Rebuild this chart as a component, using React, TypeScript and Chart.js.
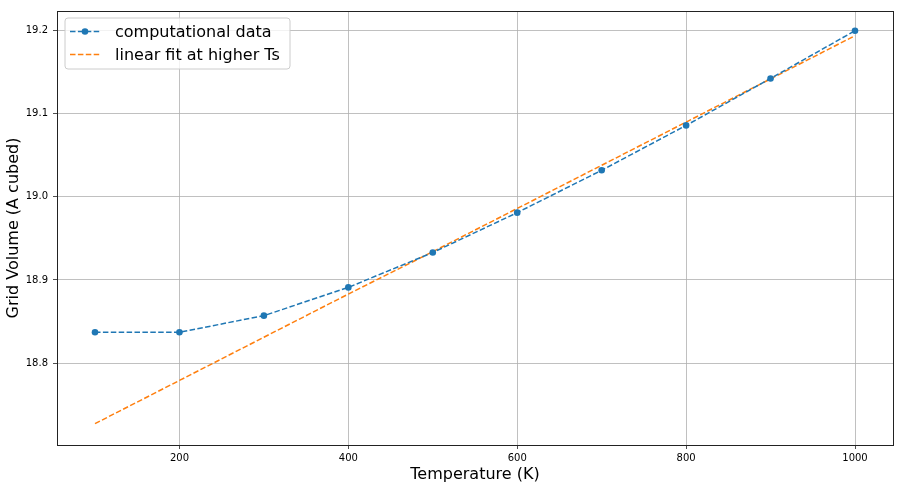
import { useEffect, useRef } from "react";
import { Chart, registerables } from "chart.js";

Chart.register(...registerables);

const temperatures = [100, 200, 300, 400, 500, 600, 700, 800, 900, 1000];
const gridVolume = [18.837, 18.837, 18.857, 18.891, 18.933, 18.981, 19.032, 19.086, 19.1425, 19.2];
const linearFit = [18.727, 18.779, 18.831, 18.883, 18.934, 18.986, 19.038, 19.09, 19.142, 19.194];
const xTicks = [200, 400, 600, 800, 1000];
const yTicks = [18.8, 18.9, 19.0, 19.1, 19.2];

const FONT = "'DejaVu Sans', sans-serif";
const BLUE = "#1f77b4";
const ORANGE = "#ff7f0e";

// box around the axes and a matplotlib-like legend inside the plot
const framePlugin = {
  id: "frame",
  afterDraw(chart: any) {
    const { ctx, chartArea: a } = chart;
    ctx.save();
    ctx.strokeStyle = "#222";
    ctx.lineWidth = 1;
    ctx.strokeRect(a.left + 0.5, a.top + 0.5, a.right - a.left, a.bottom - a.top);

    const x0 = 65, y0 = 18, w = 225, h = 51;
    ctx.beginPath();
    ctx.roundRect(x0, y0, w, h, 3);
    ctx.fillStyle = "rgba(255,255,255,0.8)";
    ctx.fill();
    ctx.strokeStyle = "#cccccc";
    ctx.stroke();

    const rows = [
      { label: "computational data", color: BLUE, y: 31.5, marker: true },
      { label: "linear fit at higher Ts", color: ORANGE, y: 54.5, marker: false },
    ];
    ctx.font = `16px ${FONT}`;
    ctx.textBaseline = "middle";
    for (const r of rows) {
      ctx.strokeStyle = r.color;
      ctx.lineWidth = 1.5;
      ctx.setLineDash([5.5, 2.4]);
      ctx.beginPath();
      ctx.moveTo(70, r.y);
      ctx.lineTo(100, r.y);
      ctx.stroke();
      ctx.setLineDash([]);
      if (r.marker) {
        ctx.fillStyle = r.color;
        ctx.beginPath();
        ctx.arc(85, r.y, 3.3, 0, Math.PI * 2);
        ctx.fill();
      }
      ctx.fillStyle = "#000";
      ctx.fillText(r.label, 115, r.y + 1);
    }
    ctx.restore();
  },
};

export default function App() {
  const canvasRef = useRef<HTMLCanvasElement>(null);

  useEffect(() => {
    document.body.style.margin = "0";
    const chart = new Chart(canvasRef.current!, {
      type: "line",
      data: {
        datasets: [
          {
            label: "computational data",
            data: temperatures.map((t, i) => ({ x: t, y: gridVolume[i] })),
            borderColor: BLUE,
            backgroundColor: BLUE,
            borderWidth: 1.5,
            borderDash: [5.5, 2.4],
            pointRadius: 3.3,
            pointBorderWidth: 0,
            fill: false,
          },
          {
            label: "linear fit at higher Ts",
            data: temperatures.map((t, i) => ({ x: t, y: linearFit[i] })),
            borderColor: ORANGE,
            backgroundColor: ORANGE,
            borderWidth: 1.5,
            borderDash: [5.5, 2.4],
            pointRadius: 0,
            fill: false,
          },
        ],
      },
      options: {
        animation: false,
        responsive: false,
        layout: { padding: { top: 11, right: 10, left: 0, bottom: 0 } },
        plugins: { legend: { display: false }, tooltip: { enabled: false } },
        scales: {
          x: {
            type: "linear",
            min: 55,
            max: 1045,
            afterFit: (s: any) => { s.height = 43; },
            afterBuildTicks: (s: any) => { s.ticks = xTicks.map((v) => ({ value: v })); },
            grid: { color: "#b0b0b0", lineWidth: 0.8, tickLength: 4, tickColor: "#222" },
            border: { display: false },
            ticks: { color: "#000", font: { family: FONT, size: 10 }, padding: 3, maxRotation: 0, callback: (v: any) => String(v) },
            title: { display: true, text: "Temperature (K)", color: "#000", font: { family: FONT, size: 16 }, padding: { top: 0, bottom: 4 } },
          },
          y: {
            type: "linear",
            min: 18.7013,
            max: 19.2237,
            afterFit: (s: any) => { s.width = 57; },
            afterBuildTicks: (s: any) => { s.ticks = yTicks.map((v) => ({ value: v })); },
            grid: { color: "#b0b0b0", lineWidth: 0.8, tickLength: 4, tickColor: "#222" },
            border: { display: false },
            ticks: { color: "#000", font: { family: FONT, size: 10 }, padding: 5, callback: (v: any) => Number(v).toFixed(1) },
            title: { display: true, text: "Grid Volume (A cubed)", color: "#000", font: { family: FONT, size: 16 }, padding: { top: 4, bottom: 0 } },
          },
        },
      },
      plugins: [framePlugin],
    });
    return () => chart.destroy();
  }, []);

  return (
    <div style={{ width: 903, height: 488, background: "#fff" }}>
      <canvas ref={canvasRef} width={903} height={488} style={{ display: "block" }} />
    </div>
  );
}
